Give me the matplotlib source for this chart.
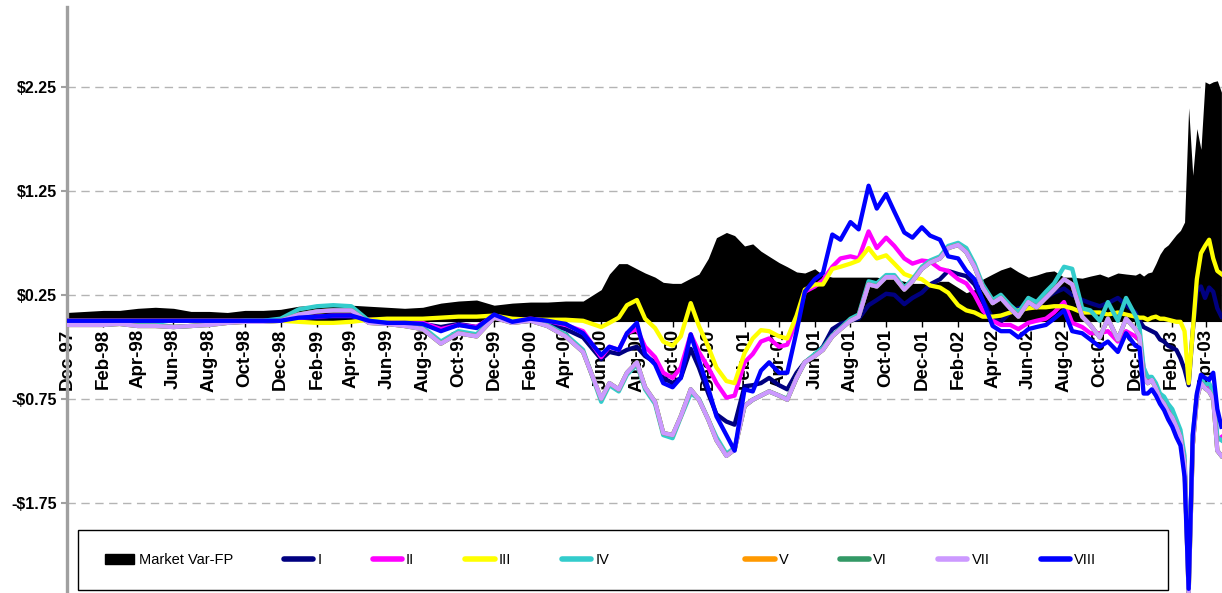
import pandas as pd
import numpy as np
import matplotlib
matplotlib.use("Agg")
import matplotlib.pyplot as plt
from matplotlib import ticker
from matplotlib.lines import Line2D
from matplotlib.patches import Patch, Rectangle

plt.rcParams['font.family'] = ['Liberation Sans', 'DejaVu Sans']

# sample dates: monthly to May-00, twice a month to Nov-02, weekly to the end
dates = (list(pd.date_range('1997-12-01', '2000-05-01', freq='MS'))
         + list(pd.date_range('2000-06-01', '2002-11-15', freq='SMS'))
         + list(pd.date_range('2002-12-01', '2003-04-27', freq='W-SUN')))

market_var = [0.08, 0.09, 0.10, 0.10, 0.12, 0.13, 0.12, 0.09, 0.09, 0.08, 0.10, 0.10, 0.11, 0.14, 0.15,
              0.15, 0.15, 0.14, 0.13, 0.12, 0.13, 0.17, 0.19, 0.20, 0.15, 0.17, 0.18, 0.18, 0.19, 0.19,
              0.30, 0.45, 0.55, 0.55, 0.50, 0.46, 0.42, 0.37, 0.36, 0.36, 0.41, 0.45, 0.60, 0.80, 0.85,
              0.82, 0.72, 0.74, 0.67, 0.62, 0.56, 0.52, 0.47, 0.46, 0.50, 0.44, 0.42, 0.42, 0.42, 0.42,
              0.42, 0.42, 0.40, 0.40, 0.38, 0.36, 0.36, 0.35, 0.38, 0.38, 0.32, 0.27, 0.30, 0.40, 0.45,
              0.49, 0.52, 0.47, 0.42, 0.44, 0.47, 0.48, 0.42, 0.42, 0.41, 0.43, 0.45, 0.42, 0.46, 0.45,
              0.44, 0.46, 0.43, 0.46, 0.47, 0.55, 0.64, 0.70, 0.73, 0.78, 0.83, 0.87, 0.95, 2.05, 1.40,
              1.85, 1.65, 2.30, 2.28, 2.30, 2.31, 2.20]

s1 = [0.0] * 13 + [0.02, 0.03, 0.04, 0.04, 0.00, -0.01, -0.01, -0.03, -0.06, -0.03, -0.06, 0.04,
                   -0.01, 0.00, -0.03, -0.08, -0.16,
      -0.37, -0.30, -0.32, -0.28, -0.25, -0.34, -0.40, -0.55, -0.60, -0.55,
      -0.27, -0.45, -0.70, -0.90, -0.97, -1.00, -0.63, -0.62, -0.60, -0.55,
      -0.62, -0.66, -0.50, -0.40, -0.33, -0.25, -0.08, -0.03, 0.00, 0.02,
      0.15, 0.20, 0.26, 0.25, 0.16, 0.22, 0.27, 0.35, 0.40, 0.48,
      0.45, 0.43, 0.35, 0.20, 0.02, -0.01, 0.08, 0.12, 0.13, 0.18,
      0.22, 0.27, 0.31, 0.25, 0.20, 0.17, 0.14, 0.17, 0.22, 0.15,
      0.08, 0.00, -0.06, -0.08, -0.10, -0.12, -0.18, -0.20, -0.24, -0.26, -0.28,
      -0.36, -0.47, -0.62, -0.10, 0.28, 0.33, 0.22, 0.32, 0.28, 0.12, 0.04]

s2 = [0.0] * 13 + [0.03, 0.04, 0.05, 0.05, 0.01, 0.00, -0.02, -0.02, -0.08, -0.04, -0.06, 0.05,
                   0.00, 0.02, 0.00, -0.04, -0.10,
      -0.35, -0.25, -0.28, -0.12, -0.08, -0.25, -0.35, -0.50, -0.55, -0.45,
      -0.13, -0.30, -0.45, -0.60, -0.74, -0.72, -0.40, -0.32, -0.20, -0.17,
      -0.25, -0.23, 0.00, 0.28, 0.33, 0.39, 0.52, 0.60, 0.62, 0.60,
      0.86, 0.70, 0.80, 0.72, 0.60, 0.55, 0.58, 0.57, 0.50, 0.48,
      0.40, 0.36, 0.25, 0.10, 0.00, -0.04, -0.04, -0.08, -0.02, 0.00,
      0.02, 0.08, 0.18, -0.02, -0.06, -0.12, -0.12, -0.10, -0.20, -0.10,
      -0.15, -0.18, -0.45, -0.58, -0.55, -0.62, -0.72, -0.78, -0.85, -0.95, -1.05,
      -1.15, -1.35, -2.45, -1.20, -0.72, -0.60, -0.65, -0.62, -0.70, -1.15, -1.12]

s3 = [0.0] * 13 + [-0.01, -0.02, -0.02, -0.01, 0.01, 0.02, 0.02, 0.02, 0.03, 0.04, 0.04, 0.05,
                   0.02, 0.01, 0.01, 0.01, 0.00,
      -0.06, -0.02, 0.03, 0.15, 0.20, 0.02, -0.07, -0.20, -0.24, -0.15,
      0.17, -0.05, -0.25, -0.45, -0.58, -0.60, -0.31, -0.17, -0.09, -0.10,
      -0.15, -0.17, 0.05, 0.30, 0.35, 0.35, 0.50, 0.52, 0.55, 0.58,
      0.70, 0.60, 0.63, 0.55, 0.45, 0.42, 0.40, 0.34, 0.32, 0.27,
      0.15, 0.10, 0.08, 0.04, 0.04, 0.05, 0.08, 0.10, 0.12, 0.13,
      0.13, 0.14, 0.14, 0.12, 0.08, 0.08, 0.08, 0.06, 0.08, 0.06,
      0.04, 0.03, 0.03, 0.01, 0.03, 0.04, 0.02, 0.02, 0.01, 0.00, -0.01,
      -0.01, -0.10, -0.60, -0.10, 0.40, 0.65, 0.72, 0.78, 0.60, 0.48, 0.45]

s4 = [-0.02, -0.02, -0.02, -0.02, -0.03, -0.03, -0.06, -0.05, -0.03, -0.01,
      0.00, 0.00, 0.02, 0.11, 0.14, 0.15, 0.14, 0.00, -0.02, -0.04,
      -0.06, -0.20, -0.10, -0.13, 0.04, -0.01, 0.01, -0.04, -0.13, -0.28,
      -0.78, -0.62, -0.68, -0.52, -0.42, -0.66, -0.80, -1.10, -1.13, -0.93,
      -0.70, -0.75, -0.95, -1.12, -1.28, -1.22, -0.82, -0.76, -0.72, -0.68,
      -0.72, -0.75, -0.55, -0.40, -0.32, -0.26, -0.14, -0.07, 0.02, 0.06,
      0.38, 0.36, 0.44, 0.44, 0.32, 0.40, 0.52, 0.58, 0.62, 0.72,
      0.75, 0.70, 0.55, 0.35, 0.20, 0.25, 0.15, 0.08, 0.22, 0.18,
      0.28, 0.36, 0.52, 0.50, 0.12, 0.10, 0.00, 0.18, 0.00, 0.22,
      0.05, -0.06, -0.45, -0.54, -0.54, -0.60, -0.70, -0.73, -0.80, -0.85, -0.95,
      -1.05, -1.30, -2.50, -1.10, -0.72, -0.55, -0.62, -0.60, -0.68, -1.12, -1.15]

s7 = [-0.04, -0.04, -0.04, -0.03, -0.05, -0.05, -0.06, -0.05, -0.04, -0.02,
      -0.01, -0.01, 0.00, 0.06, 0.09, 0.10, 0.10, -0.02, -0.03, -0.05,
      -0.08, -0.22, -0.12, -0.15, 0.03, -0.02, 0.00, -0.05, -0.15, -0.30,
      -0.75, -0.60, -0.66, -0.50, -0.40, -0.64, -0.78, -1.08, -1.10, -0.92,
      -0.66, -0.76, -0.95, -1.15, -1.30, -1.24, -0.82, -0.76, -0.72, -0.68,
      -0.72, -0.76, -0.55, -0.40, -0.34, -0.28, -0.15, -0.08, 0.00, 0.04,
      0.35, 0.33, 0.42, 0.42, 0.30, 0.38, 0.50, 0.56, 0.60, 0.70,
      0.73, 0.66, 0.52, 0.32, 0.17, 0.22, 0.12, 0.04, 0.18, 0.13,
      0.22, 0.30, 0.40, 0.35, 0.04, -0.04, -0.16, 0.02, -0.18, 0.02,
      -0.08, -0.15, -0.55, -0.60, -0.57, -0.65, -0.75, -0.80, -0.88, -0.93, -1.02,
      -1.12, -1.38, -2.62, -1.20, -0.75, -0.60, -0.65, -0.68, -0.75, -1.25, -1.30]

# V and VI are fully hidden under VII in the original
s5 = s7
s6 = s7

s8 = [0.0] * 13 + [0.03, 0.04, 0.05, 0.05, 0.00, -0.02, -0.02, -0.03, -0.10, -0.04, -0.07, 0.06,
                   -0.01, 0.02, 0.00, -0.03, -0.12,
      -0.33, -0.25, -0.28, -0.12, -0.02, -0.32, -0.42, -0.60, -0.64, -0.55,
      -0.13, -0.38, -0.65, -0.92, -1.10, -1.25, -0.66, -0.68, -0.48, -0.40,
      -0.50, -0.50, -0.10, 0.28, 0.40, 0.46, 0.83, 0.78, 0.95, 0.88,
      1.30, 1.08, 1.22, 1.05, 0.85, 0.80, 0.90, 0.82, 0.78, 0.62,
      0.60, 0.48, 0.40, 0.20, -0.05, -0.10, -0.10, -0.16, -0.08, -0.06,
      -0.04, 0.02, 0.10, -0.10, -0.12, -0.18, -0.25, -0.20, -0.30, -0.12,
      -0.24, -0.26, -0.70, -0.70, -0.66, -0.72, -0.80, -0.86, -0.95, -1.02, -1.12,
      -1.20, -1.50, -2.58, -1.10, -0.70, -0.52, -0.55, -0.57, -0.50, -0.85, -1.02]

series_names = ['I', 'II', 'III', 'IV', 'V', 'VI', 'VII', 'VIII']
series_vals = [s1, s2, s3, s4, s5, s6, s7, s8]
series_cols = ['#000080', '#FF00FF', '#FFFF00', '#33CCCC', '#FF9900', '#339966', '#CC99FF', '#0000FF']

yticks = [2.25, 1.25, 0.25, -0.75, -1.75]

fig = plt.figure(figsize=(12.22, 5.93), dpi=100)
ax = fig.add_axes([67 / 1222, 0, 1 - 67 / 1222, 1 - 7 / 593])
ax.set_axisbelow(True)

# axis at zero first: moving the spine resets the tick objects
for s in ['top', 'right']:
    ax.spines[s].set_visible(False)
ax.spines['bottom'].set_position(('data', 0))
ax.spines['bottom'].set_linewidth(0.8)
ax.spines['left'].set_color('#a0a0a0')
ax.spines['left'].set_linewidth(2.4)

ax.fill_between(dates, 0, market_var, color='black', lw=0, zorder=2)
for name, vals, col in zip(series_names, series_vals, series_cols):
    ax.plot(dates, vals, color=col, lw=3.1, zorder=3, solid_joinstyle='round')

ax.set_ylim(-2.62, 3.02)
ax.set_xlim(pd.Timestamp('1997-12-01'), pd.Timestamp('2003-04-28'))

ax.set_yticks(yticks)
ax.yaxis.set_major_formatter(ticker.FuncFormatter(
    lambda v, p: f"${v:.2f}" if v >= 0 else f"-${-v:.2f}"))
ax.grid(axis='y', color='#b4b4b4', ls=(0, (6, 4)), lw=1)

xt = pd.date_range('1997-12-01', '2003-04-01', freq='2MS')
ax.set_xticks(xt)
ax.set_xticklabels([d.strftime('%b-%y') for d in xt])
ax.tick_params(axis='y', length=4, color='#a0a0a0', width=1.5, pad=3, labelsize=11.5)
ax.tick_params(axis='x', length=4, color='black', width=1, pad=2, labelsize=13.5,
               labelrotation=90)
for lab in ax.get_xticklabels() + ax.get_yticklabels():
    lab.set_fontweight('bold')

# legend: frame drawn separately, one blank slot between IV and V as in the original
frame = Rectangle(((78 - 67) / 1155, 3 / 586), 1090 / 1155, 60 / 586, transform=ax.transAxes,
                  facecolor='white', edgecolor='black', lw=1.0, zorder=5)
ax.add_patch(frame)

handles = [Patch(facecolor='black', edgecolor='black')]
labels = ['Market Var-FP']
for i, (name, col) in enumerate(zip(series_names, series_cols)):
    if i == 4:
        handles.append(Line2D([], [], color='none'))
        labels.append('')
    handles.append(Line2D([], [], color=col, lw=4, solid_capstyle='round'))
    labels.append(name)

leg = ax.legend(handles, labels, loc='center left',
                bbox_to_anchor=((105 - 67) / 1155, (593 - 560) / 586),
                ncol=10, frameon=False, borderpad=0, borderaxespad=0,
                handlelength=2.0, handletextpad=0.3, columnspacing=3.5,
                prop={'size': 10.5})
leg.set_zorder(6)

fig.savefig('out.png', dpi=100)
